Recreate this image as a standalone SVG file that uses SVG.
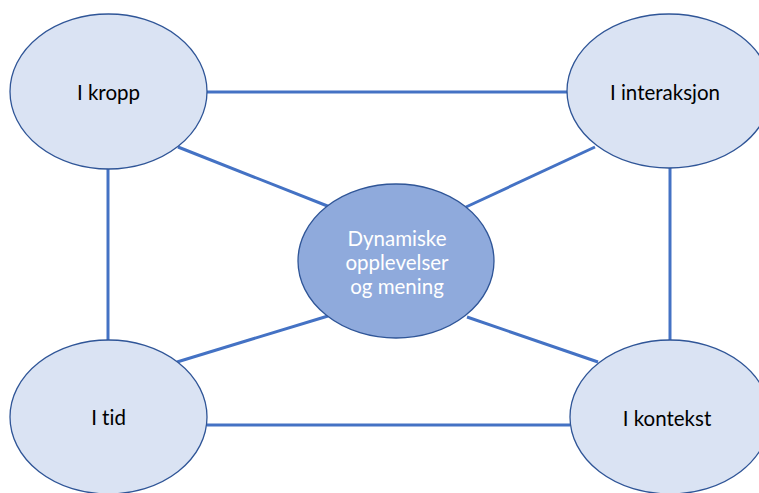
<svg xmlns="http://www.w3.org/2000/svg" width="759" height="493" viewBox="0 0 759 493">
<style>
.n{fill:#DAE3F3;stroke:#2F5597;stroke-width:1.3}
.c{fill:#8FAADC;stroke:#2F5597;stroke-width:1.3}
.l{stroke:#4472C4;stroke-width:3;fill:none}
text{font-family:Lato,"Open Sans",sans-serif;font-size:20.5px;text-anchor:middle;font-variant-ligatures:none;font-feature-settings:"liga" 0,"dlig" 0}
.w{fill:#ffffff}
</style>
<rect width="759" height="493" fill="#ffffff"/>
<g id="connectors">
<line class="l" x1="207" y1="92" x2="568" y2="92"/>
<line class="l" x1="207" y1="425" x2="570" y2="425"/>
<line class="l" x1="108" y1="168" x2="108" y2="341"/>
<line class="l" x1="670" y1="167" x2="670" y2="341"/>
<line class="l" x1="178" y1="147" x2="330" y2="207"/>
<line class="l" x1="595" y1="147" x2="466" y2="207"/>
<line class="l" x1="177" y1="362" x2="328" y2="316"/>
<line class="l" x1="598" y1="362" x2="467" y2="317"/>
</g>
<g id="node-kropp"><ellipse class="n" cx="108.5" cy="91.5" rx="98.5" ry="77.5"/><text x="108.5" y="100">I kropp</text></g>
<g id="node-interaksjon"><ellipse class="n" cx="669" cy="91" rx="102" ry="77"/><text x="665" y="100">I interaksjon</text></g>
<g id="node-tid"><ellipse class="n" cx="108.5" cy="417" rx="98.5" ry="77"/><text x="108.5" y="425">I tid</text></g>
<g id="node-kontekst"><ellipse class="n" cx="670" cy="417" rx="100" ry="77"/><text x="667" y="426">I kontekst</text></g>
<g id="node-center"><ellipse class="c" cx="396" cy="261" rx="98" ry="77"/>
<text class="w" x="397" y="246">Dynamiske</text>
<text class="w" x="397" y="270">opplevelser</text>
<text class="w" x="397" y="294">og mening</text></g>
</svg>
